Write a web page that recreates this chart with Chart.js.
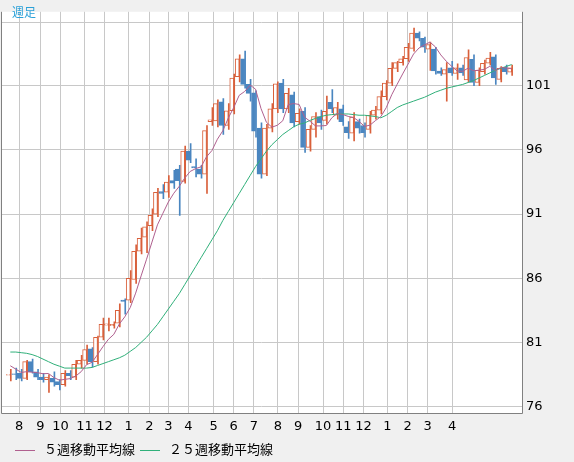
<!DOCTYPE html>
<html>
<head>
<meta charset="utf-8">
<script src="https://cdn.jsdelivr.net/npm/chart.js@4"></script>
<style>
  body { margin: 0; background: #f0f0f0; }
  #wrap { position: relative; width: 574px; height: 462px; }
  #ashi { position: absolute; left: 12px; top: 3px; font: 12px "Noto Sans CJK JP"; color: #2aa0d8; }
  .leg { position: absolute; top: 439px; font: 13px "Noto Sans CJK JP"; color: #000; white-space: nowrap; }
  .leg i { display: inline-block; width: 20px; height: 1px; vertical-align: middle; margin-right: 9px; }
</style>
</head>
<body>
<div id="wrap">
  <canvas id="grafico" width="574" height="462"></canvas>
  <div id="ashi">週足</div>
  <div class="leg" style="left:15px"><i style="background:#b0608f"></i>５週移動平均線</div>
  <div class="leg" style="left:140px"><i style="background:#30b07a"></i>２５週移動平均線</div>
</div>
<script>
// dados semanais
const opens = [78.45,78.55,78.6,78.2,79.5,78.7,78.3,78.1,78.2,77.95,77.7,78.6,78.3,79.3,79.6,80.5,79.5,81.4,82.35,82.3,
  82.5,84.3,84.3,85.9,88.1,89.2,90.1,91.0,92.75,92.7,93.6,94.5,93.55,95.9,94.7,94.5,94.1,98.2,98.25,99.75,
  97.9,99.05,101.7,103.1,101.1,100.45,97.7,94.1,97.7,99.2,101.2,99.2,100.3,98.2,99.0,96.2,97.6,98.6,98.3,99.7,
  98.7,99.2,97.8,97.3,98.2,97.9,97.6,98.7,99.1,100.15,101.2,102.35,102.8,103.1,103.9,105.1,104.7,103.85,103.85,102.15,
  101.9,102.4,101.95,102.4,101.45,103.05,101.25,102.1,102.75,103.25,101.5,102.45,102.05];
const closes = [78.5,78.5,78.2,79.5,78.7,78.3,78.1,78.3,77.9,77.7,78.6,78.4,79.3,79.6,80.45,79.5,81.4,82.4,82.45,82.4,
  83.5,84.2,86.0,88.1,89.1,90.0,90.9,92.7,92.6,93.5,93.4,93.6,95.9,95.2,94.6,94.1,97.5,98.35,99.6,97.9,
  99.05,101.6,103.1,101.1,100.4,97.45,94.1,97.7,99.2,101.15,99.2,100.4,98.1,98.85,96.2,97.6,98.6,98.1,99.0,99.2,
  99.3,98.2,97.35,98.55,97.7,97.35,98.7,99.1,100.15,101.2,102.35,102.8,103.1,104.0,105.1,104.7,104.0,104.2,102.15,101.95,
  102.25,102.0,102.4,102.0,103.2,101.25,102.2,102.75,103.15,101.6,102.35,102.1,102.4];
const highs = [78.9,79.0,78.9,79.6,79.7,78.9,78.6,78.5,78.7,78.1,78.8,78.8,79.6,80.0,80.8,80.6,81.5,82.9,82.9,82.6,
  84.0,84.4,86.6,88.6,89.9,90.4,91.4,93.0,93.3,94.0,94.4,94.8,96.3,96.5,95.3,94.8,97.9,99.3,99.9,100.0,
  99.6,101.9,103.4,103.7,101.5,100.6,98.1,98.0,99.6,101.3,101.5,100.8,100.5,99.2,99.3,97.9,98.9,99.1,100.2,100.7,
  99.7,99.5,98.2,98.9,98.4,98.1,99.0,99.4,100.6,101.4,102.8,102.9,103.3,104.3,105.5,105.2,104.8,104.4,104.0,102.4,
  102.8,102.9,102.7,102.6,103.8,103.4,102.4,103.0,103.6,103.4,102.5,102.6,102.6];
const lows = [78.0,78.1,78.0,78.1,78.6,78.1,77.9,77.1,77.6,77.3,77.6,78.1,78.1,79.0,79.3,79.1,79.3,81.2,81.9,82.1,
  82.2,83.2,84.1,85.6,87.9,88.0,89.7,90.8,92.2,92.3,93.0,90.9,93.4,95.0,93.9,93.8,92.6,97.9,97.8,97.2,
  97.6,98.8,101.3,100.8,99.8,97.0,93.8,94.0,97.4,98.9,98.9,98.9,97.8,98.0,95.8,95.9,97.0,97.6,98.0,98.9,
  98.4,97.9,96.9,96.7,97.3,97.0,97.3,98.4,98.8,99.9,101.0,102.1,102.6,102.9,103.7,104.5,103.6,102.2,101.9,101.8,
  99.8,101.8,101.5,101.8,101.3,101.0,101.0,101.9,102.6,101.1,101.3,101.9,101.8];
// fechamentos anteriores para a média de 5 semanas
const prevCloses = [79.8,79.5,79.2,78.9];
const ma25 = [80.25,80.25,80.2,80.15,80.05,79.9,79.7,79.5,79.3,79.15,79.0,79.0,79.0,79.0,79.0,79.05,79.2,79.35,79.5,79.65,
  79.8,80.0,80.3,80.6,81.0,81.4,81.9,82.4,83.0,83.6,84.2,84.8,85.5,86.2,86.9,87.6,88.3,89.0,89.7,90.5,
  91.2,91.9,92.6,93.3,94.0,94.7,95.3,95.9,96.4,96.8,97.2,97.5,97.8,98.0,98.1,98.3,98.45,98.6,98.7,98.75,
  98.8,98.8,98.8,98.75,98.7,98.7,98.65,98.6,98.5,98.7,99.0,99.3,99.5,99.65,99.8,99.95,100.1,100.3,100.5,100.65,
  100.8,100.9,101.0,101.1,101.25,101.4,101.6,101.8,102.0,102.2,102.35,102.5,102.65];
const monthTicks = [1.6,5.5,9.2,13.6,17.3,21.7,25.5,29.0,32.7,37.3,41.0,44.7,49.1,52.8,57.4,61.1,64.8,69.2,72.9,76.6,81.1];
const monthLabels = ['8','9','10','11','12','1','2','3','4','5','6','7','8','9','10','11','12','1','2','3','4'];
const yTicks = [76, 81, 86, 91, 96, 101];

const RED = '#d9603b';
const BLUE = '#4a86c0';

// media movel de 5 semanas
const todos = prevCloses.concat(closes);
const ma5 = closes.map((c, i) => {
  let s = 0;
  for (let k = 0; k < 5; k++) s += todos[i + 4 - k];
  return s / 5;
});

const up = closes.map((c, i) => c >= opens[i]);
const corpos = closes.map((c, i) => ({ x: i, y: [opens[i], c] }));
const pavios = closes.map((c, i) => ({ x: i, y: [lows[i], highs[i]] }));

// fundo branco + borda da área do gráfico + linha do 106
const fundo = {
  id: 'fundo',
  beforeDraw(chart) {
    const { ctx, chartArea: a } = chart;
    ctx.save();
    ctx.fillStyle = '#fff';
    ctx.fillRect(a.left, a.top, a.right - a.left, a.bottom - a.top);
    ctx.restore();
  },
  beforeDatasetsDraw(chart) {
    const { ctx, chartArea: a } = chart;
    const y = Math.round(chart.scales.y.getPixelForValue(106)) + 0.5;
    ctx.save();
    ctx.strokeStyle = '#c8c8c8';
    ctx.beginPath();
    ctx.moveTo(a.left, y);
    ctx.lineTo(a.right, y);
    ctx.stroke();
    ctx.restore();
  },
  afterDatasetsDraw(chart) {
    const { ctx, chartArea: a } = chart;
    ctx.save();
    ctx.strokeStyle = '#808080';
    ctx.lineWidth = 1;
    ctx.beginPath();
    ctx.moveTo(a.left + 0.5, a.top);
    ctx.lineTo(a.left + 0.5, a.bottom + 0.5);
    ctx.lineTo(a.right + 0.5, a.bottom + 0.5);
    ctx.lineTo(a.right + 0.5, a.top);
    ctx.stroke();
    ctx.restore();
  }
};

new Chart(document.getElementById('grafico'), {
  data: {
    datasets: [
      { type: 'line', label: '５週移動平均線', data: ma5.map((v, i) => ({ x: i, y: v })),
        borderColor: '#b0608f', borderWidth: 1, pointRadius: 0, tension: 0, order: 1 },
      { type: 'line', label: '２５週移動平均線', data: ma25.map((v, i) => ({ x: i, y: v })),
        borderColor: '#30b07a', borderWidth: 1, pointRadius: 0, tension: 0, order: 2 },
      { type: 'bar', label: 'corpo', data: corpos, barThickness: 4, borderSkipped: false,
        backgroundColor: up.map(u => u ? '#fff' : BLUE), borderColor: up.map(u => u ? RED : BLUE),
        borderWidth: 1, order: 3 },
      { type: 'bar', label: 'pavio', data: pavios, barThickness: 1,
        backgroundColor: up.map(u => u ? RED : BLUE), borderWidth: 0, order: 4 }
    ]
  },
  options: {
    responsive: false,
    animation: false,
    layout: { padding: { left: 1, top: 0, right: 0, bottom: 25 } },
    scales: {
      x: {
        type: 'linear', min: -1.71, max: 93.9, offset: false,
        afterBuildTicks: s => { s.ticks = monthTicks.map(v => ({ value: v })); },
        afterFit: s => { s.height = 24; },
        grid: { color: '#c8c8c8', drawTicks: false, offset: false },
        border: { display: false },
        ticks: { color: '#000', font: { family: 'DejaVu Sans', size: 13 }, padding: 6,
          maxRotation: 0, autoSkip: false,
          callback: (v, i) => monthLabels[i] }
      },
      y: {
        position: 'right', min: 75.5, max: 106.76,
        afterBuildTicks: s => { s.ticks = yTicks.map(v => ({ value: v })); },
        afterFit: s => { s.width = 52; },
        grid: { color: '#c8c8c8', drawTicks: false },
        border: { display: false },
        ticks: { color: '#000', font: { family: 'DejaVu Sans', size: 13 }, padding: 4 }
      }
    },
    plugins: {
      tooltip: { enabled: false },
      legend: { display: false }
    }
  },
  plugins: [fundo]
});
</script>
</body>
</html>
